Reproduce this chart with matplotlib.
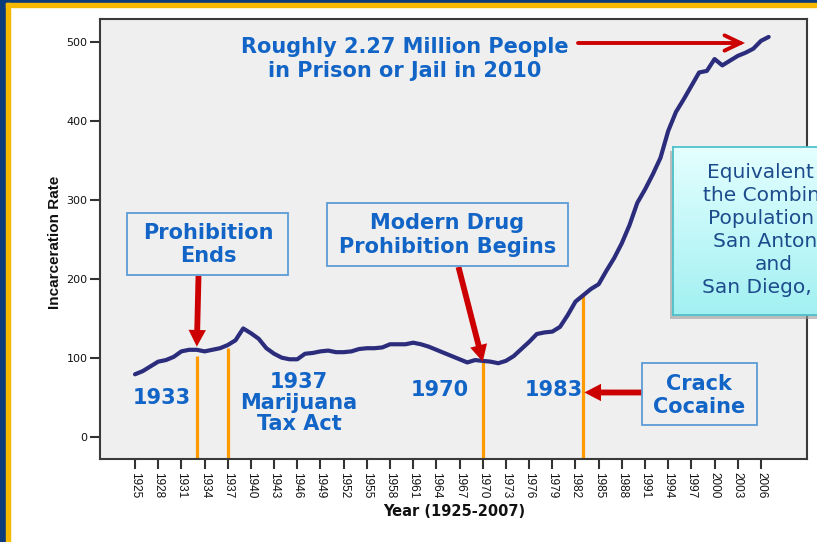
import numpy as np
import matplotlib
matplotlib.use("Agg")
import matplotlib.pyplot as plt
from matplotlib.patches import Rectangle

# ---------------- data ----------------
years = list(range(1925, 2008))
rate = [79, 83, 89, 95, 97, 101, 108, 110, 110, 108,
        110, 112, 116, 122, 137, 131, 124, 112, 105, 100,
        98, 98, 105, 106, 108, 109, 107, 107, 108, 111,
        112, 112, 113, 117, 117, 117, 119, 117, 114, 110,
        106, 102, 98, 94, 97, 96, 95, 93, 96, 102,
        111, 120, 130, 132, 133, 139, 154, 171, 179, 187,
        193, 210, 226, 245, 268, 296, 313, 332, 353, 387,
        411, 427, 444, 461, 463, 478, 470, 476, 482, 486,
        491, 501, 506]
tick_years = list(range(1925, 2007, 3))
y_ticks = [0, 100, 200, 300, 400, 500]
event_years = [1933, 1937, 1970, 1983]
event_tops = [102, 112, 95, 182]

BLUE = "#1265c6"
RED = "#cc0000"
ORANGE = "#ff9a00"
NAVY_LINE = "#2b2d7c"

W, H = 817, 542
fig = plt.figure(figsize=(W / 100, H / 100), dpi=100)
fig.patch.set_facecolor("white")


def fx(px):
    return px / W


def fy(py):
    return 1 - py / H


# slide border
fig.add_artist(Rectangle((0, 0), fx(6), 1, transform=fig.transFigure,
                         color="#0b3b7a", zorder=0))
fig.add_artist(Rectangle((0, fy(3)), 1, fx(3) * W / H, transform=fig.transFigure,
                         color="#0b3b7a", zorder=0))
fig.add_artist(Rectangle((fx(6), 0), fx(4), fy(3), transform=fig.transFigure,
                         color="#f7b900", zorder=0))
fig.add_artist(Rectangle((fx(6), fy(7)), 1, fy(3) - fy(7), transform=fig.transFigure,
                         color="#f7b900", zorder=0))

# ---------------- main axes ----------------
ax = fig.add_axes([fx(100), fy(459.3), fx(807) - fx(100), fy(19) - fy(459.3)])
ax.set_zorder(1)
ax.set_facecolor("#efefef")
ax.plot(years, rate, color=NAVY_LINE, lw=3, solid_joinstyle="round",
        solid_capstyle="round", zorder=3)
ax.set_xlim(1920.47, 2011.96)
ax.set_ylim(-28.6, 528.7)
ylo = ax.get_ylim()[0]
ax.vlines(event_years, ylo, event_tops, color=ORANGE, lw=2.3, zorder=2)

ax.set_xticks(tick_years)
ax.set_xticklabels([str(y) for y in tick_years], rotation=-90,
                   fontfamily="Liberation Sans", fontsize=8.5)
ax.set_yticks(y_ticks)
ax.set_yticklabels([str(v) for v in y_ticks], fontfamily="DejaVu Sans", fontsize=8)
ax.tick_params(axis="both", length=7, width=1.5, color="#333333",
               direction="out", pad=2, labelcolor="#111111")
for sp in ax.spines.values():
    sp.set_color("#3a3a3a")
    sp.set_linewidth(1.5)

fig.text(fx(55), fy(242), "Incarceration Rate", rotation=90, ha="center",
         va="center", fontfamily="Liberation Sans", fontweight="bold",
         fontsize=11, color="#111111")
fig.text(fx(454), fy(511), "Year (1925-2007)", ha="center", va="center",
         fontfamily="DejaVu Sans", fontweight="bold", fontsize=10.5,
         color="#111111")

# ---------------- annotations ----------------
def btext(px, py, s, ls=1.2):
    fig.text(fx(px), fy(py), s, ha="center", va="center", fontsize=15,
             fontweight="bold", color=BLUE, linespacing=ls,
             multialignment="center", zorder=5)


def box(x0, y0, x1, y1):
    fig.add_artist(Rectangle((fx(x0), fy(y1)), fx(x1) - fx(x0), fy(y0) - fy(y1),
                             transform=fig.transFigure, fill=False,
                             ec="#5b9bd5", lw=1.3, zorder=4))


btext(405, 59, "Roughly 2.27 Million People\nin Prison or Jail in 2010")
box(127.3, 213.3, 288.3, 275.3)
btext(208, 244.5, "Prohibition\nEnds")
box(326.7, 203.3, 568.3, 265.7)
btext(447.5, 235, "Modern Drug\nProhibition Begins")
box(641.7, 363.3, 756.7, 425)
btext(699, 395.5, "Crack\nCocaine")
btext(162, 398, "1933")
btext(299, 403, "1937\nMarijuana\nTax Act", ls=1.05)
btext(440, 390, "1970")
btext(554, 390, "1983")

simple = "simple,head_length=1.2,head_width=1.25,tail_width=0.42"
for tip, tail in [((event_years[0], 114), (198.5, 276)),
                  ((event_years[2], 95), (458.5, 267)),
                  ((event_years[3] + 0.15, 56), (641.7, 392.5))]:
    ax.annotate("", xy=tip, xycoords="data",
                xytext=(fx(tail[0]), fy(tail[1])), textcoords="figure fraction",
                arrowprops=dict(arrowstyle=simple, color=RED, lw=0,
                                mutation_scale=10, shrinkA=0, shrinkB=0),
                annotation_clip=False, zorder=6)

ax.annotate("", xy=(fx(745), fy(43)), xycoords="figure fraction",
            xytext=(fx(578), fy(43)), textcoords="figure fraction",
            arrowprops=dict(arrowstyle="->,head_length=1.15,head_width=0.55",
                            color=RED, lw=2.8, mutation_scale=10,
                            shrinkA=0, shrinkB=0, joinstyle="miter"),
            annotation_clip=False, zorder=6)

# cyan callout box (runs off the right edge of the slide)
fig.add_artist(Rectangle((fx(670), fy(319)), fx(900) - fx(670), fy(151) - fy(319),
                         transform=fig.transFigure, color="#9a9a9a", alpha=0.6,
                         lw=0, zorder=1.5))
bx = fig.add_axes([fx(673), fy(315), fx(900) - fx(673), fy(147) - fy(315)])
bx.set_zorder(2)
grad = np.linspace(0, 1, 100).reshape(-1, 1)
from matplotlib.colors import LinearSegmentedColormap
cmap = LinearSegmentedColormap.from_list("cy", ["#e4ffff", "#a2f0f2"])
bx.imshow(grad, aspect="auto", cmap=cmap, extent=[0, 1, 0, 1], origin="upper")
bx.set_xticks([])
bx.set_yticks([])
for sp in bx.spines.values():
    sp.set_color("#4fc0ca")
    sp.set_linewidth(1.3)

t = fig.text(fx(774), fy(230),
             "Equivalent to\nthe Combined\nPopulation of\nSan Antonio\nand\nSan Diego, CA",
             ha="center", va="center", fontsize=14.5, color="#1d4c8c",
             linespacing=1.27, multialignment="center", zorder=6)

fig.savefig("out.png", dpi=100)
